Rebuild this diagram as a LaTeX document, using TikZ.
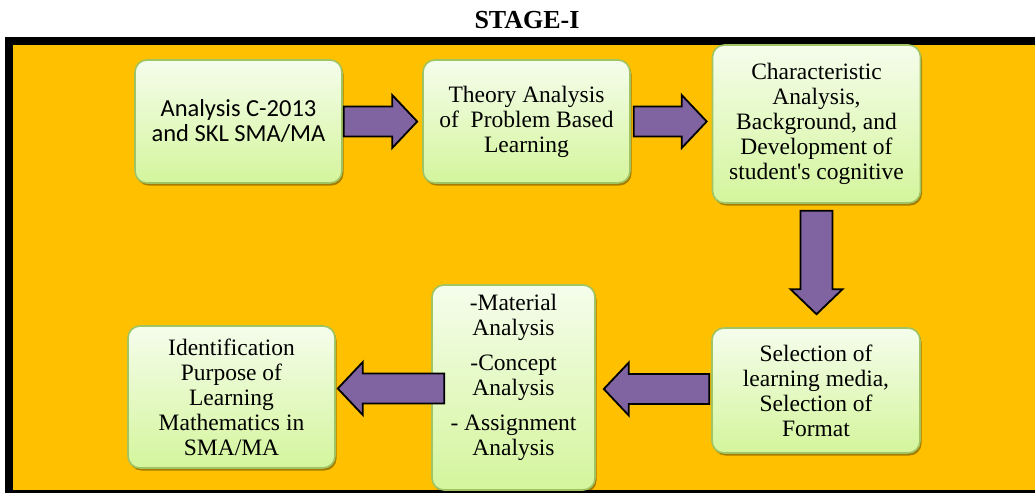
\documentclass[tikz,border=0pt]{standalone}
\usepackage{fontspec}
\setmainfont{Liberation Serif}
\newfontfamily\calibrifont{Carlito}
\usetikzlibrary{calc,shadows}
\definecolor{bgorange}{RGB}{255,192,0}
\definecolor{arrowpurple}{RGB}{128,100,162}
\definecolor{boxedge}{RGB}{160,196,98}
\definecolor{boxtop}{RGB}{245,253,236}
\definecolor{boxbottom}{RGB}{212,245,156}
\tikzset{
  stagebox/.style={rounded corners=12pt, draw=boxedge, line width=1.6pt,
    top color=boxtop, bottom color=boxbottom, inner sep=0pt,
    drop shadow={shadow xshift=1.5pt, shadow yshift=-2.5pt, opacity=0.35, fill=black}},
  boxtext/.style={align=center, font=\fontsize{23.5pt}{25pt}\selectfont},
  blockarrow/.style={fill=arrowpurple, draw=black, line width=1.8pt, line join=miter}
}
\newcommand{\hblockarrow}[2]{%
  \draw[blockarrow] let \p1=#1, \p2=#2, \n1={(\x2-\x1)/abs(\x2-\x1)} in
    ({\x1},{\y1+15pt}) -- ({\x2-\n1*25pt},{\y1+15pt}) -- ({\x2-\n1*25pt},{\y1+26.5pt})
    -- ({\x2},{\y1}) -- ({\x2-\n1*25pt},{\y1-26.5pt}) -- ({\x2-\n1*25pt},{\y1-15pt})
    -- ({\x1},{\y1-15pt}) -- cycle;}
\newcommand{\vblockarrow}[2]{%
  \draw[blockarrow] let \p1=#1, \p2=#2 in
    ({\x1-16pt},{\y1}) -- ({\x1-16pt},{\y2+25pt}) -- ({\x1-26pt},{\y2+25pt})
    -- ({\x1},{\y2}) -- ({\x1+26pt},{\y2+25pt}) -- ({\x1+16pt},{\y2+25pt})
    -- ({\x1+16pt},{\y1}) -- cycle;}
\begin{document}
\begin{tikzpicture}[x=1pt,y=-1pt]
\useasboundingbox (0,0) rectangle (1035,493);
% frame and background
\fill[black] (5,37) rectangle (1035,493);
\fill[bgorange] (13,45) rectangle (1035,490);
% title
\node[font=\fontsize{26pt}{28pt}\selectfont\bfseries] (title) at (527,20) {STAGE-I};
% boxes
\node[stagebox, minimum width=207pt, minimum height=123pt] (b1) at (238.5,121.5) {};
\node[font=\calibrifont\fontsize{24.5pt}{25pt}\selectfont, align=center] (b1t) at (b1.center) {Analysis C-2013\\and SKL SMA/MA};
\node[stagebox, boxtext, minimum width=207pt, minimum height=123pt] (b2) at (526.5,121.5) {Theory Analysis\\of~ Problem Based\\Learning};
\node[stagebox, boxtext, minimum width=208pt, minimum height=158pt] (b3) at (816.5,124) {Characteristic\\Analysis,\\Background, and\\Development of\\student\textquotesingle s cognitive};
\node[stagebox, boxtext, minimum width=208pt, minimum height=125pt] (b5) at (816,390.5) {Selection of\\learning media,\\Selection of\\Format};
\node[stagebox, minimum width=163pt, minimum height=205pt] (b4) at (513.5,387.5) {};
\node[boxtext] (b4t) at ($(b4.center)+(0,-10)$) {-Material\\Analysis\\[10pt]-Concept\\Analysis\\[10pt]- Assignment\\Analysis};
\node[stagebox, boxtext, minimum width=207pt, minimum height=142pt] (b6) at (231.5,397) {Identification\\Purpose of\\Learning\\Mathematics in\\SMA/MA};
% arrows
\hblockarrow{($(b1.east)+(1,0)$)}{($(b2.west)+(-5,0)$)}
\hblockarrow{($(b2.east)+(3,0)$)}{($(b3.west |- b2.east)+(-5,0)$)}
\vblockarrow{($(b3.south)+(0,7)$)}{($(b5.north)+(0,-13)$)}
\hblockarrow{($(b5.west)+(-2,-1.5)$)}{($(b4.east |- b5.west)+(8,-1.5)$)}
\hblockarrow{($(b4.west)+(13,1)$)}{($(b6.east |- b4.west)+(2,1)$)}
\end{tikzpicture}
\end{document}
